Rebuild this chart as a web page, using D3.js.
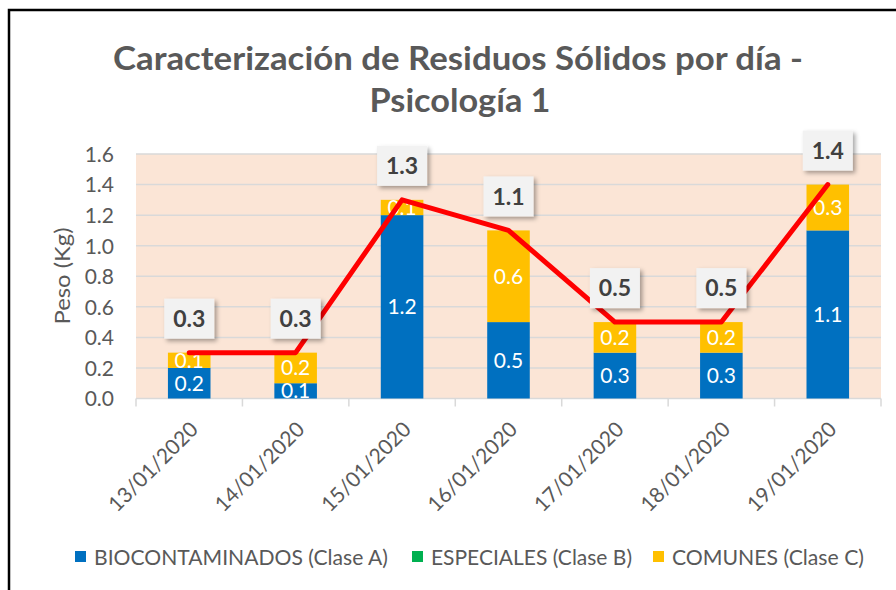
<!DOCTYPE html>
<html><head><meta charset="utf-8">
<script src="https://cdn.jsdelivr.net/npm/d3@7"></script>
<style>body{margin:0;background:#fff}svg{display:block}text{font-family:Lato,"Open Sans",sans-serif}</style>
</head><body>
<svg id="c" width="896" height="590"></svg>
<script>
const categories = ["13/01/2020","14/01/2020","15/01/2020","16/01/2020","17/01/2020","18/01/2020","19/01/2020"];
const bioValues = [0.2,0.1,1.2,0.5,0.3,0.3,1.1];
const especialesValues = [0,0,0,0,0,0,0];
const comunesValues = [0.1,0.2,0.1,0.6,0.2,0.2,0.3];
const totalValues = [0.3,0.3,1.3,1.1,0.5,0.5,1.4];
const yTicks = [0,0.2,0.4,0.6,0.8,1.0,1.2,1.4,1.6];
const seriesNames = ["BIOCONTAMINADOS (Clase A)","ESPECIALES (Clase B)","COMUNES (Clase C)"];
const seriesColors = ["#0070C0","#00B050","#FFC000"];

const svg = d3.select("#c");
const L=136, R=881, T=154, B=398.5;
const x = d3.scaleBand().domain(categories).range([L,R]).paddingInner(0.6).paddingOuter(0.3);
const y = d3.scaleLinear().domain([0,1.6]).range([B,T]);
const grey = "#595959";

const defs = svg.append("defs");
const f = defs.append("filter").attr("id","sh").attr("x","-30%").attr("y","-30%").attr("width","160%").attr("height","160%");
f.append("feDropShadow").attr("dx",2.5).attr("dy",2.5).attr("stdDeviation",2).attr("flood-color","#000").attr("flood-opacity",0.35);

// frame
svg.append("path").attr("d","M9,590 V10 H896").attr("fill","none").attr("stroke","#000").attr("stroke-width",2.5);

// title
svg.append("text").attr("x",458).attr("y",70).attr("text-anchor","middle").attr("font-weight","bold").attr("font-size",32)
  .attr("textLength",690).attr("lengthAdjust","spacingAndGlyphs").attr("fill",grey).text("Caracterización de Residuos Sólidos por día -");
svg.append("text").attr("x",460).attr("y",112).attr("text-anchor","middle").attr("font-weight","bold").attr("font-size",32)
  .attr("textLength",181).attr("lengthAdjust","spacingAndGlyphs").attr("fill",grey).text("Psicología 1");

// plot bg
svg.append("rect").attr("x",L).attr("y",T).attr("width",R-L).attr("height",B-T).attr("fill","#FBE5D6");

// grid
svg.append("g").selectAll("line").data(yTicks.slice(1)).join("line")
  .attr("x1",L).attr("x2",R).attr("y1",d=>y(d)).attr("y2",d=>y(d))
  .attr("stroke","#D9D9D9").attr("stroke-width",1.5);

// y axis labels
const yAxis = d3.axisLeft(y).tickValues(yTicks).tickFormat(d3.format(".1f")).tickSize(0).tickPadding(0);
const ya = svg.append("g").attr("transform",`translate(114,0)`).call(yAxis);
ya.select(".domain").remove();
ya.selectAll("text").attr("font-size",21).attr("fill",grey).attr("font-family","Lato").attr("dy","0.35em");

// y title
svg.append("text").attr("transform","translate(70,276) rotate(-90)").attr("text-anchor","middle").attr("font-size",22)
  .attr("textLength",97).attr("lengthAdjust","spacingAndGlyphs").attr("fill",grey).text("Peso (Kg)");

// x axis
const xa = svg.append("g").attr("transform",`translate(0,${B})`);
xa.append("line").attr("x1",L).attr("x2",R).attr("stroke","#D9D9D9").attr("stroke-width",1.5);
const step = x.step();
xa.selectAll(".tk").data(d3.range(categories.length+1)).join("line").attr("class","tk")
  .attr("x1",i=>L+i*step).attr("x2",i=>L+i*step).attr("y1",0).attr("y2",8)
  .attr("stroke","#D9D9D9").attr("stroke-width",1.5);
xa.selectAll(".xl").data(categories).join("text").attr("class","xl")
  .attr("transform",d=>`translate(${x(d)+x.bandwidth()/2+5},${27}) rotate(-45)`)
  .attr("text-anchor","end").attr("dy","0.35em").attr("font-size",21).attr("fill",grey).text(d=>d);

// stacked bars
const rows = categories.map((c,i)=>({cat:c, bio:bioValues[i], esp:especialesValues[i], com:comunesValues[i]}));
const stack = d3.stack().keys(["bio","esp","com"])(rows);
const gb = svg.append("g");
stack.forEach((s,si)=>{
  gb.append("g").attr("fill",seriesColors[si]).selectAll("rect").data(s.filter(d=>d[1]>d[0])).join("rect")
    .attr("x",d=>x(d.data.cat)).attr("width",x.bandwidth())
    .attr("y",d=>y(d[1])).attr("height",d=>y(d[0])-y(d[1]));
});
stack.forEach((s,si)=>{
  gb.append("g").selectAll("text").data(s.filter(d=>d[1]>d[0])).join("text")
    .attr("x",d=>x(d.data.cat)+x.bandwidth()/2).attr("y",d=>(y(d[0])+y(d[1]))/2)
    .attr("dy","0.36em").attr("text-anchor","middle").attr("font-size",21).attr("fill","#fff")
    .text(d=>d3.format(".1f")(d[1]-d[0]));
});

// line
const line = d3.line().x((d,i)=>x(categories[i])+x.bandwidth()/2).y(d=>y(d));
svg.append("path").datum(totalValues).attr("d",line).attr("fill","none").attr("stroke","#FF0000")
  .attr("stroke-width",5).attr("stroke-linejoin","round").attr("stroke-linecap","round");

// data label boxes
const lb = svg.append("g").selectAll("g").data(totalValues).join("g")
  .attr("transform",(d,i)=>`translate(${x(categories[i])+x.bandwidth()/2},${y(d)-34})`);
lb.append("rect").attr("x",-25).attr("y",-20).attr("width",50).attr("height",40).attr("fill","#F2F2F2").attr("filter","url(#sh)");
lb.append("text").attr("text-anchor","middle").attr("dy","0.36em").attr("font-size",23).attr("font-weight","bold").attr("fill","#404040").text(d=>d3.format(".1f")(d));

// legend
const legX = [75,412,653];
const legW = [294,201,192];
const lg = svg.append("g").selectAll("g").data(seriesNames).join("g").attr("transform",(d,i)=>`translate(${legX[i]},551)`);
lg.append("rect").attr("width",11).attr("height",11).attr("fill",(d,i)=>seriesColors[i]);
lg.append("text").attr("x",19).attr("y",13.5).attr("font-size",21).attr("fill",grey)
  .attr("textLength",(d,i)=>legW[i]).attr("lengthAdjust","spacingAndGlyphs").text(d=>d);
</script>
</body></html>
